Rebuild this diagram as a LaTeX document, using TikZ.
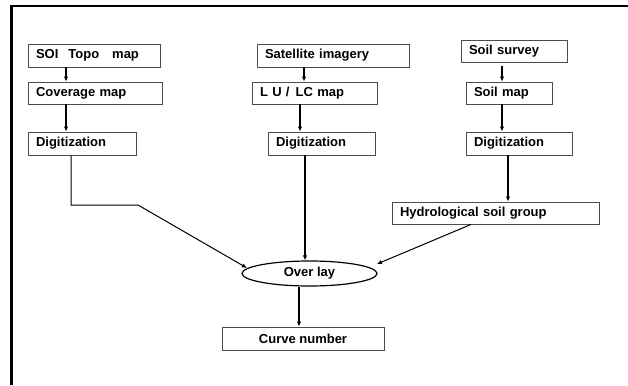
\documentclass[tikz,border=0pt]{standalone}
\usepackage{fontspec}
\setmainfont{Liberation Sans}
\usetikzlibrary{arrows.meta,shapes.geometric}
\tikzset{
  box/.style={draw=black!70, line width=0.9pt, rectangle, inner xsep=8pt, inner ysep=0pt,
    align=left, font=\fontsize{13}{14}\selectfont\bfseries, anchor=center},
  cbox/.style={box, align=center},
  arr/.style={draw=black, line width=1.3pt, -{Latex[length=5pt,width=4.5pt]}},
  thinarr/.style={arr, line width=1pt},
  frame/.style={draw=black, line width=2.4pt},
}
% #1 name, #2 x1, #3 y1, #4 x2, #5 y2, #6 text
\newcommand{\mybox}[6]{%
  \pgfmathsetmacro{\bw}{#4-#2}\pgfmathsetmacro{\bh}{#5-#3}%
  \pgfmathsetmacro{\tw}{#4-#2-16}%
  \node[box, text width=\tw pt, minimum width=\bw pt, minimum height=\bh pt]
    (#1) at ({(#2+#4)/2},{(#3+#5)/2}) {#6};}
\begin{document}
\begin{tikzpicture}[x=1pt,y=-1pt]
\useasboundingbox (0,0) rectangle (628,385);
% frame (left and top only)
\draw[frame] (11.5,385) -- (11.5,5.8) -- (628,5.8);

\mybox{A}{28}{44}{160}{67}{SOI\hspace{10pt}Topo\hspace{13pt}map}
\mybox{B}{28}{82}{162}{104}{Coverage map}
\mybox{C}{28}{132}{136}{155}{Digitization}
\mybox{D}{257}{44}{409}{67}{Satellite imagery}
\mybox{E}{252}{82}{377}{104}{L U /\hspace{6pt}LC map}
\mybox{F}{268}{132}{375}{155}{Digitization}
\mybox{G}{461}{40}{567}{62}{Soil survey}
\mybox{H}{466}{82}{552}{104}{Soil map}
\mybox{I}{466}{132}{572}{155}{Digitization}
\mybox{J}{392}{202}{599}{224}{Hydrological soil group}

\node[draw=black, line width=1.2pt, ellipse, minimum width=135pt, minimum height=25pt, inner sep=0pt,
  font=\fontsize{13}{14}\selectfont\bfseries] (K) at (309.5,273.5) {Over lay};
\node[cbox, minimum width=162pt, minimum height=23pt] (L) at (303,338.5) {Curve number};

% x guides
\coordinate (x66) at (66,0);
\coordinate (x304) at (304,0);
\coordinate (x300) at (300,0);
\coordinate (x305) at (305,0);
\coordinate (x502) at (502,0);
\coordinate (x508) at (508,0);
\coordinate (x71) at (71,0);
\coordinate (x471) at (471,0);
\coordinate (x299) at (299,0);
\coordinate (bend1) at (71,205);
\coordinate (bend2) at (138,205);
\coordinate (Kl) at (247,268);
\coordinate (Kr) at (377,264);
\coordinate (Gs) at (502,66);

\draw[arr] (A.south -| x66) -- (B.north -| x66);
\draw[arr] (B.south -| x66) -- (C.north -| x66);
\draw[arr] (D.south -| x304) -- (E.north -| x304);
\draw[arr] (E.south -| x300) -- (F.north -| x300);
\draw[arr] (Gs) -- (H.north -| x502);
\draw[arr] (H.south -| x502) -- (I.north -| x502);
\draw[arr] (I.south -| x508) -- (J.north -| x508);
\draw[arr] (F.south -| x305) -- (K.north -| x305);
\draw[thinarr] (C.south -| x71) -- (bend1) -- (bend2) -- (Kl);
\draw[thinarr] (J.south -| x471) -- (Kr);
\draw[arr] (K.south -| x299) -- (L.north -| x299);
\end{tikzpicture}
\end{document}
